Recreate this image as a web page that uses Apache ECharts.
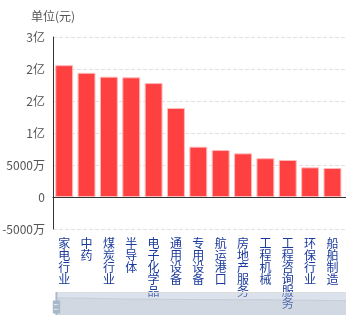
<!DOCTYPE html>
<html><head><meta charset="utf-8">
<script src="https://cdn.jsdelivr.net/npm/echarts@6/dist/echarts.min.js"></script>
<style>html,body{margin:0;padding:0;overflow:hidden;background:#fff}#c{width:1010px;height:340px}</style>
</head><body><div id="c"></div><script>
const categories = ['家电行业','中药','煤炭行业','半导体','电子化学品','通用设备','专用设备','航运港口','房地产服务','工程机械','工程咨询服务','环保行业','船舶制造','汽车零部件'];
const values = [206000000, 194000000, 188000000, 187000000, 178000000, 139000000, 78600000, 73400000, 68200000, 60600000, 57800000, 46300000, 45300000, 35000000];
const yMin = -50000000, yMax = 250000000, yInterval = 50000000;
const yName = '单位(元)';

function fmtY(v) {
  if (v === 0) return '0';
  if (Math.abs(v) >= 1e8) return (v / 1e8).toFixed(0) + '亿';
  return (v / 1e4).toFixed(0) + '万';
}
const font = '"Noto Sans CJK SC", "Noto Sans", sans-serif';
const chart = echarts.init(document.getElementById('c'), null, {renderer: 'canvas'});
chart.setOption({
  animation: false,
  textStyle: {fontFamily: font},
  grid: {left: 53, top: 37, width: 313, height: 192, containLabel: false, outerBoundsMode: 'none'},
  xAxis: {
    type: 'category',
    data: categories,
    axisLine: {onZero: true, lineStyle: {color: '#333', width: 1}},
    axisTick: {show: false},
    axisLabel: {
      interval: 0, margin: 8, color: '#1a3a9c', fontSize: 12, lineHeight: 12, fontFamily: font,
      formatter: function (n) { return n.split('').join('\n'); }
    },
    splitLine: {show: false}
  },
  yAxis: {
    type: 'value',
    name: yName,
    nameTextStyle: {color: '#555', fontSize: 12, fontFamily: font},
    min: yMin, max: yMax, interval: yInterval,
    axisLine: {show: true, lineStyle: {color: '#333', width: 1}},
    axisTick: {show: false},
    axisLabel: {color: '#555', fontSize: 12, margin: 8, fontFamily: font, formatter: fmtY},
    splitLine: {show: true, lineStyle: {color: '#e0e0e0', type: 'dashed'}}
  },
  dataZoom: [{
    type: 'slider',
    xAxisIndex: 0,
    start: 0, end: 100,
    left: 53, top: 292, height: 30, width: 950,
    showDetail: false,
    brushSelect: false,
    moveHandleSize: 0,
    backgroundColor: 'rgba(47,69,84,0)',
    borderColor: '#ddd',
    fillerColor: 'rgba(167,183,204,0.4)',
    handleIcon: 'path://M8.2,13.6V3.9H6.3v9.7H3.1v14.9h3.3v9.7h1.8v-9.7h3.3V13.6H8.2z M9.7,24.4H4.8v-1.4h4.9V24.4z M9.7,19.1H4.8v-1.4h4.9V19.1z',
    handleSize: '100%',
    handleStyle: {color: '#a7b7cc', borderWidth: 0},
    dataBackground: {lineStyle: {color: '#2f4554', width: 0.5, opacity: 0.3}, areaStyle: {color: 'rgba(47,69,84,0.3)', opacity: 0.3}},
    selectedDataBackground: {lineStyle: {color: '#2f4554', width: 0.5, opacity: 0.3}, areaStyle: {color: 'rgba(47,69,84,0.3)', opacity: 0.3}}
  }],
  series: [{
    type: 'bar',
    data: values,
    barCategoryGap: '20%',
    itemStyle: {color: '#ff4040', borderColor: '#ffb8b8', borderWidth: 1}
  }]
});
</script></body></html>
